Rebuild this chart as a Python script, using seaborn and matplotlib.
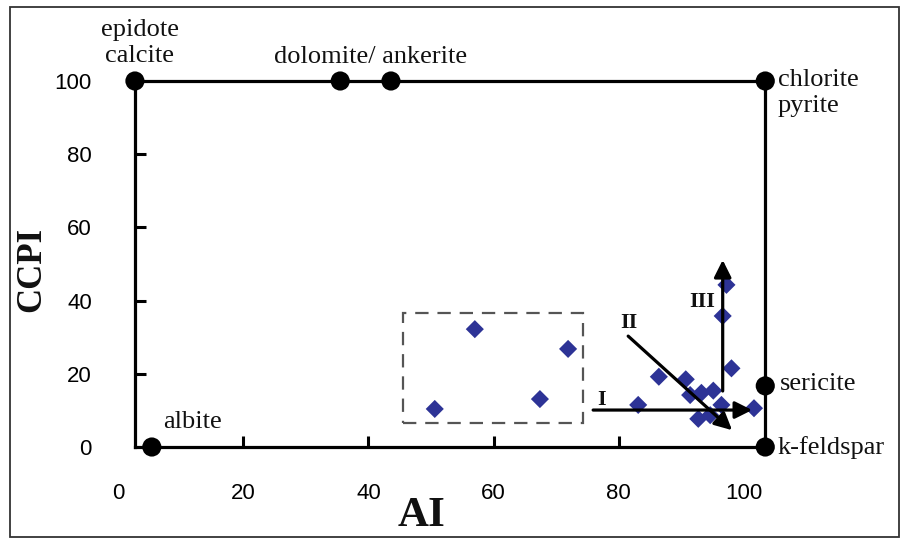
import numpy as np
import pandas as pd
import matplotlib
matplotlib.use("Agg")
import matplotlib.pyplot as plt
import matplotlib.patches as patches
import seaborn as sns

# --- data ---
# sample points (AI, CCPI)
ai = [57.0, 71.9, 67.4, 50.6,
      97.2, 96.6, 98.0, 86.4, 90.7, 83.1, 91.4, 93.2, 95.1, 96.4, 92.7, 94.6, 101.6]
ccpi = [32.2, 26.8, 13.1, 10.4,
        44.3, 35.8, 21.5, 19.2, 18.5, 11.5, 14.2, 14.8, 15.4, 11.5, 7.7, 8.7, 10.6]

# mineral end-members on the box
mineral_ai = [2.7, 35.5, 43.6, 103.4, 103.4, 103.4, 5.4]
mineral_ccpi = [100, 100, 100, 100, 16.7, 0, 0]

# box limits
box_x = (2.7, 103.4)
box_y = (0, 100)

# dashed group box: x0, x1, y0, y1
group_box = (45.5, 74.3, 6.6, 36.6)

# alteration trends: label, start, end, label position
trends = {
    "I": ((75.9, 10.1), (101.3, 10.1), (77.3, 12.8)),
    "II": ((81.5, 30.3), (98.1, 4.6), (81.6, 33.9)),
    "III": ((96.6, 15.3), (96.6, 51.1), (93.3, 39.6)),
}

xticks = [0, 20, 40, 60, 80, 100]
yticks = [0, 20, 40, 60, 80, 100]

df = pd.DataFrame({"AI": ai, "CCPI": ccpi})
minerals = pd.DataFrame({"AI": mineral_ai, "CCPI": mineral_ccpi})

sns.set_style("white")
plt.rcParams["font.family"] = ["Liberation Sans", "DejaVu Sans"]
serif = ["Liberation Serif", "DejaVu Serif"]

fig = plt.figure(figsize=(9.08, 5.38), dpi=100)
ax = fig.add_axes([100 / 908, 68 / 538, 700 / 908, 430 / 538])
ax.set_xlim(-2.88, 108.95)
ax.set_ylim(-6.28, 111.2)

# box drawn with the spines
lw = 2.3
ax.spines["bottom"].set_position(("data", box_y[0]))
ax.spines["top"].set_position(("data", box_y[1]))
ax.spines["left"].set_position(("data", box_x[0]))
ax.spines["right"].set_position(("data", box_x[1]))
for s in ["bottom", "top"]:
    ax.spines[s].set_bounds(*box_x)
for s in ["left", "right"]:
    ax.spines[s].set_bounds(*box_y)
for s in ax.spines.values():
    s.set_linewidth(lw)
    s.set_color("black")
    s.set_capstyle("projecting")

ax.set_xticks(xticks)
ax.set_yticks(yticks)
ax.tick_params(axis="both", direction="in", length=8, width=2.2, color="black",
               labelsize=16, labelcolor="black", bottom=True, left=True)
ax.tick_params(axis="x", pad=26)
ax.tick_params(axis="y", pad=31)
for t in ax.xaxis.get_major_ticks()[::5]:
    t.tick1line.set_visible(False)
for t in ax.yaxis.get_major_ticks()[::5]:
    t.tick1line.set_visible(False)

sns.scatterplot(data=df, x="AI", y="CCPI", ax=ax, marker="D", s=85,
                color="#2D3396", edgecolor="none", zorder=4, clip_on=False)
sns.scatterplot(data=minerals, x="AI", y="CCPI", ax=ax, marker="o", s=190,
                color="black", edgecolor="none", zorder=5, clip_on=False)

x0, x1, y0, y1 = group_box
ax.add_patch(patches.Rectangle((x0, y0), x1 - x0, y1 - y0, fill=False,
                               edgecolor="#555555", lw=1.6,
                               linestyle=(0, (6, 4)), zorder=3))

for name, (start, end, lab) in trends.items():
    ax.annotate("", xy=end, xytext=start,
                arrowprops=dict(arrowstyle="-|>", lw=2.3, color="black",
                                mutation_scale=26, shrinkA=0, shrinkB=0),
                zorder=6)
    ax.text(lab[0], lab[1], name, fontsize=16, fontweight="bold",
            family=serif, ha="center", va="center", color="#111111", zorder=7)

tkw = dict(fontsize=19, family=serif, color="#111111", linespacing=1.25)
ax.text(3.5, 110.4, "epidote\ncalcite", ha="center", va="center", **tkw)
ax.text(40.3, 106.6, "dolomite/ ankerite", ha="center", va="center", **tkw)
ax.text(105.4, 96.8, "chlorite\npyrite", ha="left", va="center", **tkw)
ax.text(105.8, 17.2, "sericite", ha="left", va="center", **tkw)
ax.text(105.4, 0, "k-feldspar", ha="left", va="center", **tkw)
ax.text(7.2, 6.8, "albite", ha="left", va="center", **tkw)

ax.set_xlabel("AI", fontsize=31, fontweight="bold", family=serif, color="#111111")
ax.set_ylabel("CCPI", fontsize=25, fontweight="bold", family=serif, color="#111111")
ax.xaxis.set_label_coords((422 - 100) / 700, (470 - 497) / 430)
ax.yaxis.set_label_coords((48 - 100) / 700, (470 - 270) / 430)

# outer frame around the figure
fig.add_artist(patches.Rectangle((10 / 908, 1 / 538), 889 / 908, 530 / 538,
                                 transform=fig.transFigure, fill=False,
                                 edgecolor="#333333", lw=1.3))

fig.savefig("out.png", dpi=100)
